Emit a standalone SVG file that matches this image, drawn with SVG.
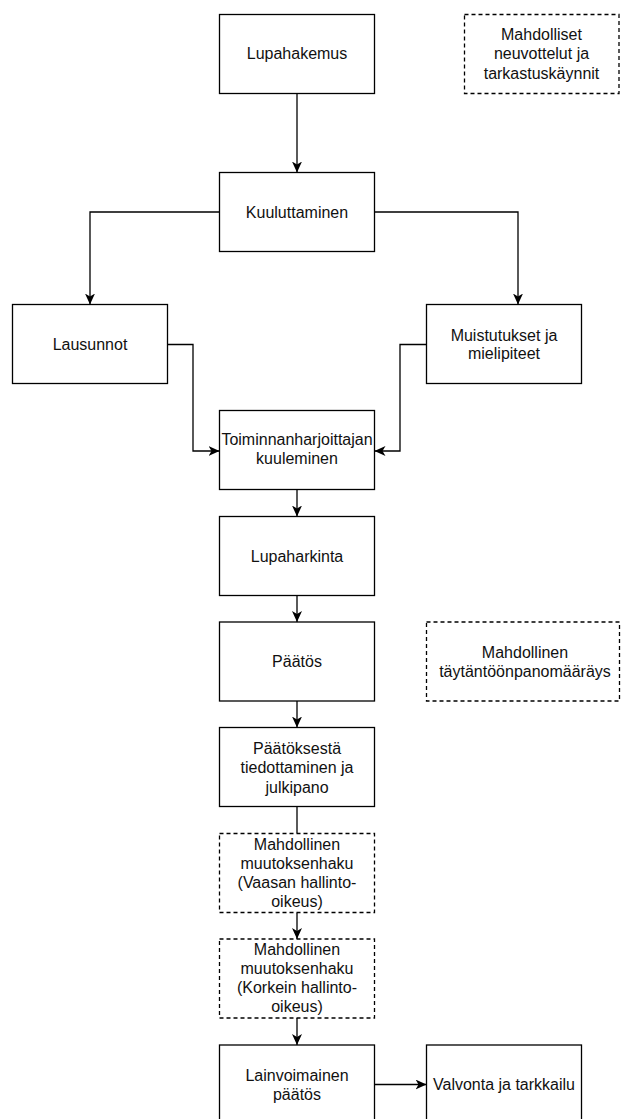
<svg xmlns="http://www.w3.org/2000/svg" width="622" height="1119" viewBox="0 0 622 1119">
<style>
.box{fill:#fff;stroke:#000;stroke-width:1.3}
.dash{fill:#fff;stroke:#000;stroke-width:1.3;stroke-dasharray:4 3}
.t{font-family:"Liberation Sans",Arial,sans-serif;font-size:16px;fill:#111;text-anchor:middle}
.c{fill:none;stroke:#000;stroke-width:1.3}
</style>
<defs>
<marker id="ah" markerUnits="userSpaceOnUse" markerWidth="12" markerHeight="10" viewBox="0 0 12 10" refX="11" refY="5" orient="auto">
<path d="M0,0 L11,5 L0,10 L3,5 Z" fill="#000"/>
</marker>
</defs>
<rect width="622" height="1119" fill="#fff"/>
<g id="connectors">
<path class="c" d="M297,93.5 V172.5" marker-end="url(#ah)"/>
<path class="c" d="M219.5,212 H90 V304.5" marker-end="url(#ah)"/>
<path class="c" d="M374.5,212 H518 V304.5" marker-end="url(#ah)"/>
<path class="c" d="M167.5,344.5 H193 V451 H219.5" marker-end="url(#ah)"/>
<path class="c" d="M426.5,344.5 H400 V451 H374.5" marker-end="url(#ah)"/>
<path class="c" d="M297,489.5 V516.5" marker-end="url(#ah)"/>
<path class="c" d="M297,595.5 V622" marker-end="url(#ah)"/>
<path class="c" d="M297,701 V727.5" marker-end="url(#ah)"/>
<path class="c" d="M297,806.5 V833.5"/>
<path class="c" d="M297,912.5 V939" marker-end="url(#ah)"/>
<path class="c" d="M297,1018 V1045" marker-end="url(#ah)"/>
<path class="c" d="M374.5,1084.5 H426.5" marker-end="url(#ah)"/>
</g>
<g id="lupahakemus"><rect class="box" x="219.5" y="14.5" width="155" height="79"/><text class="t" x="297" y="59">Lupahakemus</text></g>
<g id="neuvottelut"><rect class="dash" x="464.5" y="14.5" width="154.5" height="79"/><text class="t" x="541.5" y="39.5">Mahdolliset</text><text class="t" x="541.5" y="59">neuvottelut ja</text><text class="t" x="541.5" y="78.5">tarkastuskäynnit</text></g>
<g id="kuuluttaminen"><rect class="box" x="219.5" y="172.5" width="155" height="79"/><text class="t" x="297" y="217.5">Kuuluttaminen</text></g>
<g id="lausunnot"><rect class="box" x="12.5" y="304.5" width="155" height="79"/><text class="t" x="90" y="349.5">Lausunnot</text></g>
<g id="muistutukset"><rect class="box" x="426.5" y="304.5" width="155" height="79"/><text class="t" x="504" y="340.5">Muistutukset ja</text><text class="t" x="504" y="359">mielipiteet</text></g>
<g id="kuuleminen"><rect class="box" x="219.5" y="410.5" width="155" height="79"/><text class="t" x="297" y="444.5">Toiminnanharjoittajan</text><text class="t" x="297" y="463.5">kuuleminen</text></g>
<g id="lupaharkinta"><rect class="box" x="219.5" y="516.5" width="155" height="79"/><text class="t" x="297" y="561.5">Lupaharkinta</text></g>
<g id="paatos"><rect class="box" x="219.5" y="622" width="155" height="79"/><text class="t" x="297" y="667">Päätös</text></g>
<g id="taytantoonpano"><rect class="dash" x="426.5" y="622" width="193" height="79"/><text class="t" x="525" y="657.5">Mahdollinen</text><text class="t" x="525" y="676.5">täytäntöönpanomääräys</text></g>
<g id="tiedottaminen"><rect class="box" x="219.5" y="727.5" width="155" height="79"/><text class="t" x="297" y="753.5">Päätöksestä</text><text class="t" x="297" y="773">tiedottaminen ja</text><text class="t" x="297" y="792.5">julkipano</text></g>
<g id="muutoksenhaku1"><rect class="dash" x="219.5" y="833.5" width="155" height="79"/><text class="t" x="297" y="849.5">Mahdollinen</text><text class="t" x="297" y="868.5">muutoksenhaku</text><text class="t" x="297" y="887.5">(Vaasan hallinto-</text><text class="t" x="297" y="906.5">oikeus)</text></g>
<g id="muutoksenhaku2"><rect class="dash" x="219.5" y="939" width="155" height="79"/><text class="t" x="297" y="955">Mahdollinen</text><text class="t" x="297" y="974">muutoksenhaku</text><text class="t" x="297" y="993">(Korkein hallinto-</text><text class="t" x="297" y="1012">oikeus)</text></g>
<g id="lainvoimainen"><rect class="box" x="219.5" y="1045" width="155" height="79"/><text class="t" x="297" y="1080.5">Lainvoimainen</text><text class="t" x="297" y="1099.5">päätös</text></g>
<g id="valvonta"><rect class="box" x="426.5" y="1045" width="155" height="79"/><text class="t" x="504" y="1090">Valvonta ja tarkkailu</text></g>
</svg>
